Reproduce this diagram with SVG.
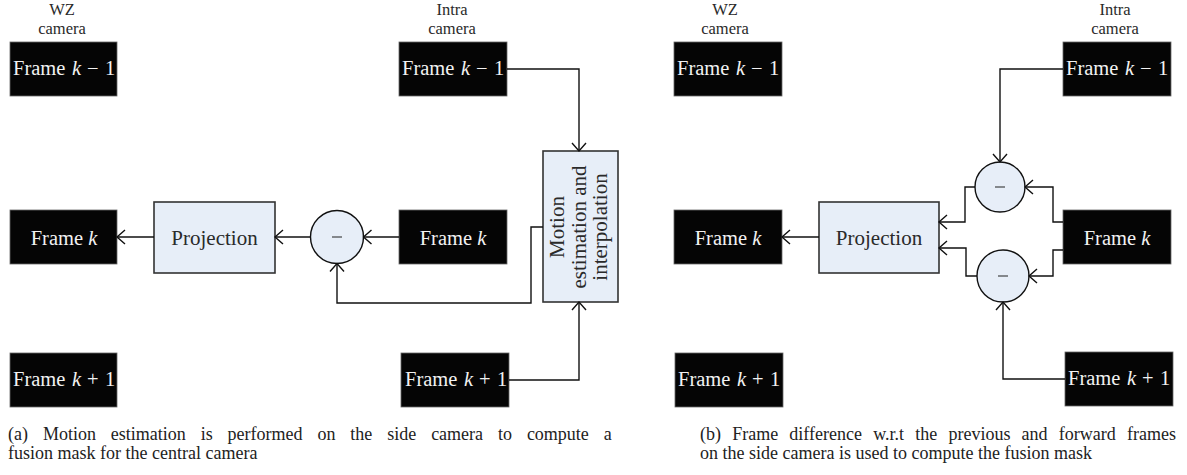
<svg xmlns="http://www.w3.org/2000/svg" width="1187" height="475" viewBox="0 0 1187 475">
<style>
.frame{fill:#050505;stroke:#666;stroke-width:0.8}
.ft{font-family:"Liberation Serif",serif;font-size:20.5px;fill:#f2f2f2}
.lab{font-family:"Liberation Serif",serif;font-size:16.5px;fill:#2a2a2a;text-anchor:middle}
.box{fill:#e7eef8;stroke:#333;stroke-width:1.6}
.bt{font-family:"Liberation Serif",serif;font-size:21px;fill:#2a2a2a;text-anchor:middle}
.circ{fill:#e7eef8;stroke:#111;stroke-width:1.4}
.minus{stroke:#222;stroke-width:1}
.con path{fill:none;stroke:#111;stroke-width:1.4;marker-end:url(#arr)}
.cap{font-family:"Liberation Serif",serif;font-size:18px;fill:#222}
.it{font-style:italic}
</style>
<defs>
<marker id="arr" markerWidth="12" markerHeight="18" refX="9" refY="8" orient="auto" markerUnits="userSpaceOnUse">
<path d="M1,1 L9,8 L1,15" fill="none" stroke="#111" stroke-width="1.4"/>
</marker>
</defs>

<!-- Panel (a) labels -->
<g id="a-wz-label"><text class="lab" x="62" y="15">WZ</text><text class="lab" x="62" y="34">camera</text></g>
<g id="a-intra-label"><text class="lab" x="452" y="15">Intra</text><text class="lab" x="452" y="34">camera</text></g>

<g id="a-wz-km1"><rect class="frame" x="10" y="42" width="107" height="54"/>
<text class="ft" y="75"><tspan x="13">Frame</tspan><tspan x="72" class="it">k</tspan><tspan x="87">−</tspan><tspan x="105">1</tspan></text></g>
<g id="a-wz-k"><rect class="frame" x="10" y="210" width="107" height="54"/>
<text class="ft" y="245" text-anchor="middle" x="64">Frame <tspan class="it">k</tspan></text></g>
<g id="a-wz-kp1"><rect class="frame" x="10" y="353" width="107" height="54"/>
<text class="ft" y="386"><tspan x="13">Frame</tspan><tspan x="72" class="it">k</tspan><tspan x="87">+</tspan><tspan x="105">1</tspan></text></g>

<g id="a-in-km1"><rect class="frame" x="399" y="42" width="108" height="54"/>
<text class="ft" y="75"><tspan x="402">Frame</tspan><tspan x="461" class="it">k</tspan><tspan x="476">−</tspan><tspan x="494">1</tspan></text></g>
<g id="a-in-k"><rect class="frame" x="399" y="210" width="108" height="54"/>
<text class="ft" y="245" text-anchor="middle" x="453">Frame <tspan class="it">k</tspan></text></g>
<g id="a-in-kp1"><rect class="frame" x="401" y="353" width="108" height="54"/>
<text class="ft" y="386"><tspan x="405">Frame</tspan><tspan x="464" class="it">k</tspan><tspan x="479">+</tspan><tspan x="497">1</tspan></text></g>

<g id="a-proj"><rect class="box" x="154" y="202" width="121" height="71"/>
<text class="bt" x="214.5" y="245">Projection</text></g>
<g id="a-diff"><circle class="circ" cx="337" cy="237" r="26.5"/><line class="minus" x1="332" y1="237" x2="342" y2="237"/></g>
<g id="a-motion"><rect class="box" x="543" y="151" width="75" height="151"/>
<text class="bt" transform="translate(564,227) rotate(-90)">Motion</text>
<text class="bt" transform="translate(586,227) rotate(-90)">estimation and</text>
<text class="bt" transform="translate(607,227) rotate(-90)">interpolation</text></g>

<g id="a-connectors" class="con">
<path d="M154,237 H117"/>
<path d="M310.5,237 H275"/>
<path d="M399,237 H363.5"/>
<path d="M507,69 H579 V151"/>
<path d="M509,380 H579 V302"/>
<path d="M543,227 H531 V303 H337 V263.5"/>
</g>

<!-- Panel (b) -->
<g id="b-wz-label"><text class="lab" x="725" y="15">WZ</text><text class="lab" x="725" y="34">camera</text></g>
<g id="b-intra-label"><text class="lab" x="1115" y="15">Intra</text><text class="lab" x="1115" y="34">camera</text></g>

<g id="b-wz-km1"><rect class="frame" x="674" y="42" width="108" height="54"/>
<text class="ft" y="75"><tspan x="677">Frame</tspan><tspan x="736" class="it">k</tspan><tspan x="751">−</tspan><tspan x="769">1</tspan></text></g>
<g id="b-wz-k"><rect class="frame" x="674" y="210" width="108" height="54"/>
<text class="ft" y="245" text-anchor="middle" x="728">Frame <tspan class="it">k</tspan></text></g>
<g id="b-wz-kp1"><rect class="frame" x="675" y="353" width="108" height="54"/>
<text class="ft" y="386"><tspan x="678">Frame</tspan><tspan x="737" class="it">k</tspan><tspan x="752">+</tspan><tspan x="770">1</tspan></text></g>

<g id="b-in-km1"><rect class="frame" x="1063" y="42" width="108" height="54"/>
<text class="ft" y="75"><tspan x="1066">Frame</tspan><tspan x="1125" class="it">k</tspan><tspan x="1140">−</tspan><tspan x="1158">1</tspan></text></g>
<g id="b-in-k"><rect class="frame" x="1063" y="210" width="108" height="54"/>
<text class="ft" y="245" text-anchor="middle" x="1117">Frame <tspan class="it">k</tspan></text></g>
<g id="b-in-kp1"><rect class="frame" x="1065" y="352" width="108" height="54"/>
<text class="ft" y="385"><tspan x="1068">Frame</tspan><tspan x="1127" class="it">k</tspan><tspan x="1142">+</tspan><tspan x="1160">1</tspan></text></g>

<g id="b-proj"><rect class="box" x="819" y="202" width="120" height="71"/>
<text class="bt" x="879" y="245">Projection</text></g>
<g id="b-diff1"><circle class="circ" cx="1000" cy="187" r="25"/><line class="minus" x1="995" y1="187" x2="1005" y2="187"/></g>
<g id="b-diff2"><circle class="circ" cx="1003" cy="276" r="26"/><line class="minus" x1="998" y1="276" x2="1008" y2="276"/></g>

<g id="b-connectors" class="con">
<path d="M819,237 H782"/>
<path d="M1063,69 H1000 V162"/>
<path d="M1063,222 H1053 V187 H1025"/>
<path d="M1063,250 H1053 V276 H1029"/>
<path d="M975,187 H965 V222 H939"/>
<path d="M977,276 H966 V248 H939"/>
<path d="M1065,379 H1003 V302"/>
</g>

<!-- Captions -->
<g id="captions">
<text class="cap" x="8" y="440" word-spacing="10.4">(a)  Motion estimation is performed on the side camera to compute a</text>
<text class="cap" x="8" y="459">fusion mask for the central camera</text>
<text class="cap" x="700" y="440" word-spacing="6.7">(b)  Frame difference w.r.t the previous and forward frames</text>
<text class="cap" x="700" y="459">on the side camera is used to compute the fusion mask</text>
</g>
</svg>
